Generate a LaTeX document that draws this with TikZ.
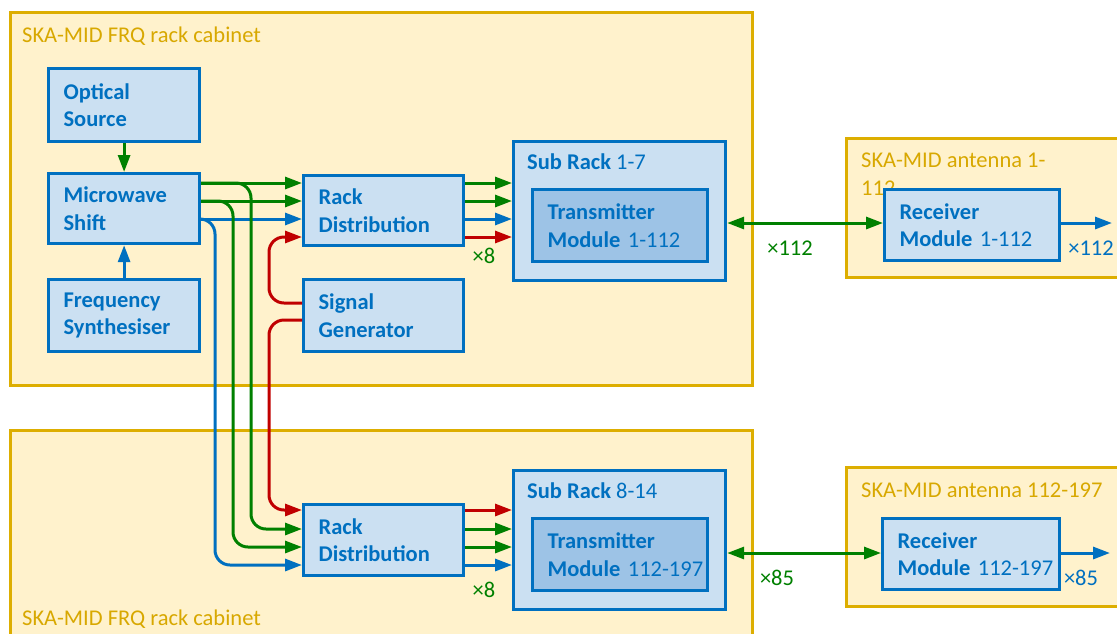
\documentclass[tikz,border=0pt]{standalone}
\usepackage{fontspec}
\setmainfont{Carlito}
\usetikzlibrary{arrows.meta}
\definecolor{cabfill}{HTML}{FFF2CC}
\definecolor{cabline}{HTML}{DDAE00}
\definecolor{cabtext}{HTML}{D8A800}
\definecolor{bxfill}{HTML}{CBE0F2}
\definecolor{bxfilldk}{HTML}{9DC3E6}
\definecolor{bxline}{HTML}{0070C0}
\definecolor{grn}{HTML}{008000}
\definecolor{rdc}{HTML}{C00000}
\tikzset{
  cab/.style={draw=cabline, fill=cabfill, line width=3pt},
  cabt/.style={text=cabtext, inner sep=0pt, anchor=base west},
  blk/.style={draw=bxline, fill=bxfill, line width=3.2pt, text=bxline,
    font=\fontsize{22.5}{27.5}\selectfont\bfseries, align=left,
    inner xsep=15pt, inner ysep=0pt, anchor=north west},
  tip/.tip={Triangle[length=17pt,width=12pt]},
  arr/.style={line width=3pt, -tip},
  conn/.style={line width=3pt, rounded corners=15pt, -tip},
  lbl/.style={inner sep=0pt}
}
\begin{document}
\begin{tikzpicture}[x=1pt,y=-1pt,font=\fontsize{22.5}{27.5}\selectfont]
\useasboundingbox (0,0) rectangle (1117,633);
\clip (0,0) rectangle (1117,633);
% containers
\path[cab] (10,12) rectangle (752,385);
\path[cab] (10,430) rectangle (752,660);
\path[cab] (846,138) rectangle (1140,277);
\path[cab] (846,467) rectangle (1140,606);
\node[cabt] (t1) at (22,42) {SKA-MID FRQ rack cabinet};
\node[cabt] (t2) at (22,625) {SKA-MID FRQ rack cabinet};
\node[cabt] (t3) at (861,167) {SKA-MID antenna 1-};
\node[cabt] (t3b) at (861,195) {112};
\node[cabt] (t4) at (861,497) {SKA-MID antenna 112-197};
% blocks
\node[blk, minimum width=151pt, minimum height=73pt, text width=121pt] (os) at (47,67) {Optical\\Source};
\node[blk, minimum width=151pt, minimum height=70pt, text width=121pt] (ms) at (47,172) {Microwave\\Shift};
\node[blk, minimum width=151pt, minimum height=72pt, text width=121pt] (fs) at (47,278) {Frequency\\Synthesiser};
\node[blk, minimum width=160pt, minimum height=70pt, text width=130pt] (rd1) at (302,174) {Rack\\Distribution};
\node[blk, minimum width=160pt, minimum height=72pt, text width=130pt] (sg) at (302,278) {Signal\\Generator};
\node[blk, minimum width=160pt, minimum height=71pt, text width=130pt] (rd2) at (302,503) {Rack\\Distribution};
\node[blk, minimum width=212pt, minimum height=139pt] (sr1) at (512,140) {};
\node[blk, minimum width=212pt, minimum height=139pt] (sr2) at (512,469) {};
\node[lbl, text=bxline, anchor=base west] (sr1t) at (527,169) {\textbf{Sub Rack} 1-7};
\node[lbl, text=bxline, anchor=base west] (sr2t) at (527,498) {\textbf{Sub Rack} 8-14};
\node[blk, fill=bxfilldk, minimum width=175pt, minimum height=72pt, text width=145pt] (tm1) at (531,188) {Transmitter\\\mbox{Module {\mdseries 1-112}}};
\node[blk, fill=bxfilldk, minimum width=175pt, minimum height=72pt, text width=145pt] (tm2) at (531,517) {Transmitter\\\mbox{Module {\mdseries 112-197}}};
\node[blk, minimum width=175pt, minimum height=71pt, text width=145pt] (rx1) at (883,188) {Receiver\\\mbox{Module {\mdseries 1-112}}};
\node[blk, minimum width=177pt, minimum height=71pt, text width=147pt] (rx2) at (881,517) {Receiver\\\mbox{Module {\mdseries 112-197}}};
% helper coordinates
\coordinate (ya) at (0,183);
\coordinate (yb) at (0,201);
\coordinate (yc) at (0,219);
\coordinate (yd) at (0,237);
\coordinate (ys1) at (0,303);
\coordinate (ys2) at (0,320);
\coordinate (ye) at (0,510);
\coordinate (yf) at (0,529);
\coordinate (yg) at (0,547);
\coordinate (yh) at (0,565);
\coordinate (xb) at (215,0);
\coordinate (xg2) at (233,0);
\coordinate (xg1) at (251,0);
\coordinate (xr) at (269,0);
\coordinate (yt) at (0,223);
\coordinate (yu) at (0,553);
\coordinate (o1) at (1112,223);
\coordinate (o2) at (1110,553);
% vertical feeds
\draw[arr, grn] (os.south) -- (ms.north);
\draw[arr, bxline] (fs.north) -- (ms.south);
% microwave shift to top rack distribution
\draw[arr, grn] (ms.east |- ya) -- (rd1.west |- ya);
\draw[arr, grn] (ms.east |- yb) -- (rd1.west |- yb);
\draw[arr, bxline] (ms.east |- yc) -- (rd1.west |- yc);
% branches down to bottom rack distribution
\draw[conn, grn] (ms.east |- ya) -- (xg1 |- ya) -- (xg1 |- yf) -- (rd2.west |- yf);
\draw[conn, grn] (ms.east |- yb) -- (xg2 |- yb) -- (xg2 |- yg) -- (rd2.west |- yg);
\draw[conn, bxline] (ms.east |- yc) -- (xb |- yc) -- (xb |- yh) -- (rd2.west |- yh);
% signal generator
\draw[conn, rdc] (sg.west |- ys1) -- (xr |- ys1) -- (xr |- yd) -- (rd1.west |- yd);
\draw[conn, rdc] (sg.west |- ys2) -- (xr |- ys2) -- (xr |- ye) -- (rd2.west |- ye);
% rack distribution outputs
\draw[arr, grn] (rd1.east |- ya) -- (sr1.west |- ya);
\draw[arr, grn] (rd1.east |- yb) -- (sr1.west |- yb);
\draw[arr, bxline] (rd1.east |- yc) -- (sr1.west |- yc);
\draw[arr, rdc] (rd1.east |- yd) -- (sr1.west |- yd);
\draw[arr, rdc] (rd2.east |- ye) -- (sr2.west |- ye);
\draw[arr, grn] (rd2.east |- yf) -- (sr2.west |- yf);
\draw[arr, grn] (rd2.east |- yg) -- (sr2.west |- yg);
\draw[arr, bxline] (rd2.east |- yh) -- (sr2.west |- yh);
\node[lbl, text=grn] (x8a) at (484,256) {×8};
\node[lbl, text=grn] (x8b) at (484,590) {×8};
% links to receivers
\draw[line width=3pt, grn, tip-tip] (sr1.east |- yt) -- (rx1.west |- yt);
\draw[line width=3pt, grn, tip-tip] (sr2.east |- yu) -- (rx2.west |- yu);
\node[lbl, text=grn] (n112) at (790,248) {×112};
\node[lbl, text=grn] (n85) at (777,578) {×85};
\draw[arr, bxline] (rx1.east |- yt) -- (o1);
\draw[arr, bxline] (rx2.east |- yu) -- (o2);
\node[lbl, text=bxline] (m112) at (1091,248) {×112};
\node[lbl, text=bxline] (m85) at (1081,578) {×85};
\end{tikzpicture}
\end{document}
